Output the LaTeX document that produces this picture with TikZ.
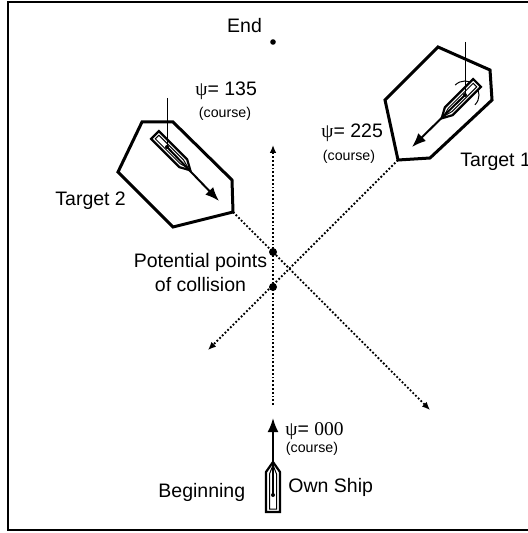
\documentclass[tikz,border=0pt]{standalone}
\usepackage{fontspec}
\setmainfont{Liberation Sans}
\newfontfamily\greekfont{Liberation Serif}
\usetikzlibrary{arrows.meta}

\begin{document}
\begin{tikzpicture}[x=0.5pt,y=-0.5pt,
    hull/.style={line width=1.5pt, line join=miter},
    course/.style={densely dotted, line width=0.9pt, -{Latex[length=4pt,width=3.4pt]}},
    heading/.style={line width=1pt, -{Latex[length=7pt,width=5.5pt]}},
    lbl/.style={font=\fontsize{9.75}{12}\selectfont, inner sep=0pt},
    small/.style={font=\fontsize{7.1}{8.5}\selectfont, inner sep=0pt},
    dot/.style={circle, fill, inner sep=0pt, minimum size=#1}]
    \useasboundingbox (0,0) rectangle (527,533);
    \draw[line width=1pt] (545,2) -- (8,2) -- (8,530) -- (545,530);

    % ship positions, heading tips and hull corners
    \coordinate (own) at (273,495);
    \coordinate (own tip) at (273,418);
    \coordinate (tgt2) at (167,147);
    \coordinate (tgt2 tip) at (219,201);
    \coordinate (tgt2 north) at (167,98);
    \coordinate (tgt1) at (465,95);
    \coordinate (tgt1 tip) at (412,147);
    \coordinate (tgt1 north) at (465,42);
    \coordinate (tgt2 corner) at (233,212);
    \coordinate (tgt2 end) at (430,410);
    \coordinate (tgt1 corner) at (398,160);
    \coordinate (tgt1 end) at (208,350);
    \coordinate (own start) at (273,405);
    \coordinate (own end) at (273,145);

    % safety domains of the targets
    \draw[hull] (142,122) -- (173,122) -- (232,180) -- (tgt2 corner) -- (173,227) -- (118,172) -- cycle;
    \draw[hull] (438,47) -- (490,70) -- (492,100) -- (430,158) -- (tgt1 corner) -- (385,100) -- cycle;

    % courses
    \draw[course] (tgt2 corner) -- (tgt2 end);
    \draw[course] (tgt1 corner) -- (tgt1 end);
    \draw[course] (own start) -- (own end);

    \node[dot=4pt] (hit1) at (273,252) {};
    \node[dot=4pt] (hit2) at (273,287) {};
    \node[dot=2.8pt] (endpt) at (273,42) {};

    % heading angle of target 1
    \draw[line width=0.5pt] (tgt1) ++(45:14) arc (45:-135:14);

    % ships
    \foreach \px/\py/\hd/\w/\iw in {273/495/0/7/3.5, 167/147/135/5.5/2.5, 465/95/225/5.5/2.5} {
        \begin{scope}[shift={(\px,\py)}, rotate=-\hd]
            \draw[line width=1.1pt, fill=white] (-\w,17) -- (\w,17) -- (\w,-23) -- (0,-33) -- (-\w,-23) -- cycle;
            \draw[line width=0.5pt] (-\iw,14) -- (\iw,14) -- (\iw,-21) -- (0,-30) -- (-\iw,-21) -- cycle;
        \end{scope}
    }
    \draw[line width=0.5pt] (tgt2 north) -- (tgt2);
    \draw[line width=0.5pt] (tgt1 north) -- (tgt1);
    \draw[heading] (own) -- (own tip);
    \draw[heading] (tgt2) -- (tgt2 tip);
    \draw[heading] (tgt1) -- (tgt1 tip);
    \foreach \s in {own, tgt2, tgt1} \fill (\s) circle (2);

    % labels
    \node[lbl, anchor=base] (end) at (244.5,33) {End};
    \node[lbl, anchor=base west] (psi2) at (195,96) {{\greekfont ψ}= 135};
    \node[small, anchor=base] (crs2) at (225,117.5) {(course)};
    \node[lbl, anchor=base west] (psi1) at (321,138) {{\greekfont ψ}= 225};
    \node[small, anchor=base] (crs1) at (349,161) {(course)};
    \node[lbl, anchor=base west] (psi0) at (285,435) {{\greekfont ψ}= {\greekfont 000}};
    \node[small, anchor=base] (crs0) at (312,452) {(course)};
    \node[lbl, anchor=base west] (t2) at (55,206) {Target 2};
    \node[lbl, anchor=base west] (t1) at (460,167) {Target 1};
    \node[lbl, align=center] (pts) at (200.5,273) {Potential points\\of collision};
    \node[lbl, anchor=base west] (beg) at (158,497) {Beginning};
    \node[lbl, anchor=base west] (ownlbl) at (288,492) {Own Ship};
\end{tikzpicture}
\end{document}
